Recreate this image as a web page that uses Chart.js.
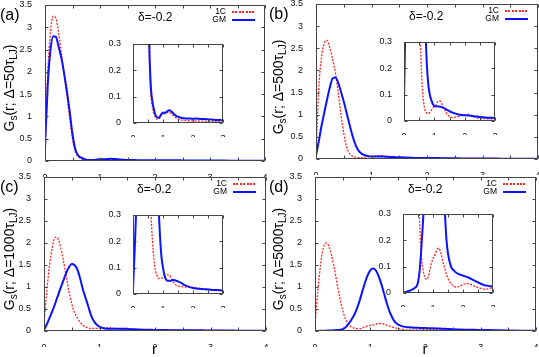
<!DOCTYPE html>
<html>
<head>
<meta charset="utf-8">
<script src="https://cdn.jsdelivr.net/npm/chart.js@4.4.1/dist/chart.umd.min.js"></script>
<style>
  body { margin: 0; width: 539px; height: 357px; overflow: hidden; background: #fff; position: relative;
         font-family: "Liberation Sans", Arial, sans-serif; color: #000; }
  canvas { position: absolute; }
  .txt { position: absolute; white-space: nowrap; line-height: 1; }
  .ylab { position: absolute; white-space: nowrap; font-size: 14px; line-height: 1;
          transform: translate(-50%, -50%) rotate(-90deg); }
  .ylab sub { font-size: 10px; vertical-align: -3px; }
  .key { position: absolute; height: 2px; }
</style>
</head>
<body>
<script>
// ====== DATA ======
const rValues = [0, 0.05, 0.1, 0.15, 0.2, 0.25, 0.3, 0.35, 0.4, 0.45, 0.5, 0.55, 0.6, 0.65, 0.7, 0.75,
  0.8, 0.85, 0.9, 0.95, 1, 1.05, 1.1, 1.15, 1.2, 1.25, 1.3, 1.35, 1.4, 1.45, 1.5,
  1.6, 1.7, 1.8, 1.9, 2, 2.1, 2.2, 2.3, 2.4, 2.5, 2.6, 2.7, 2.8, 2.9, 3,
  3.25, 3.5, 3.75, 4];

// (a) delta = 50 tau_LJ
const a1C = [0.25, 2.0, 2.9, 3.25, 3.2, 2.85, 2.4, 1.9, 1.45, 0.95, 0.5, 0.22, 0.1, 0.06, 0.035, 0.02,
  0.015, 0.015, 0.02, 0.03, 0.035, 0.035, 0.037, 0.04, 0.04, 0.038, 0.033, 0.028, 0.023, 0.018, 0.015,
  0.012, 0.01, 0.009, 0.008, 0.008, 0.008, 0.007, 0.007, 0.007, 0.006, 0.006, 0.006, 0.005, 0.005, 0.005,
  0.004, 0.004, 0.003, 0.003];
const aGM = [0.3, 1.7, 2.5, 2.8, 2.78, 2.55, 2.3, 1.95, 1.55, 1.1, 0.6, 0.27, 0.13, 0.08, 0.05, 0.03,
  0.022, 0.02, 0.025, 0.035, 0.04, 0.038, 0.04, 0.045, 0.048, 0.047, 0.042, 0.036, 0.03, 0.026, 0.024,
  0.02, 0.018, 0.017, 0.017, 0.016, 0.017, 0.016, 0.015, 0.015, 0.014, 0.013, 0.012, 0.011, 0.012, 0.01,
  0.009, 0.007, 0.006, 0.005];

// (b) delta = 500 tau_LJ
const b1C = [0.1, 1.6, 2.3, 2.62, 2.68, 2.5, 2.25, 1.95, 1.5, 1.0, 0.58, 0.28, 0.13, 0.07, 0.04, 0.03,
  0.028, 0.032, 0.04, 0.05, 0.055, 0.06, 0.07, 0.077, 0.075, 0.065, 0.05, 0.04, 0.03, 0.022, 0.017,
  0.013, 0.015, 0.017, 0.02, 0.023, 0.026, 0.022, 0.017, 0.012, 0.01, 0.009, 0.009, 0.008, 0.008, 0.008,
  0.006, 0.005, 0.004, 0.003];
const bGM = [0.08, 0.4, 0.75, 1.05, 1.35, 1.62, 1.82, 1.84, 1.72, 1.52, 1.3, 1.05, 0.8, 0.56, 0.36, 0.22,
  0.14, 0.1, 0.08, 0.065, 0.057, 0.055, 0.056, 0.055, 0.054, 0.052, 0.05, 0.047, 0.043, 0.04, 0.037,
  0.032, 0.028, 0.025, 0.023, 0.022, 0.021, 0.02, 0.018, 0.017, 0.015, 0.014, 0.013, 0.012, 0.012, 0.011,
  0.009, 0.007, 0.006, 0.005];

// (c) delta = 1000 tau_LJ
const c1C = [0.2, 0.9, 1.5, 1.9, 2.13, 2.1, 1.9, 1.6, 1.25, 0.9, 0.62, 0.42, 0.3, 0.2, 0.13, 0.09,
  0.07, 0.06, 0.058, 0.06, 0.062, 0.065, 0.07, 0.073, 0.073, 0.065, 0.055, 0.045, 0.038, 0.032, 0.03,
  0.028, 0.027, 0.026, 0.026, 0.025, 0.023, 0.021, 0.02, 0.019, 0.018, 0.017, 0.016, 0.015, 0.015, 0.014,
  0.011, 0.009, 0.007, 0.005];
const cGM = [0.02, 0.15, 0.3, 0.45, 0.62, 0.8, 0.98, 1.15, 1.32, 1.45, 1.52, 1.5, 1.4, 1.2, 0.95, 0.75,
  0.55, 0.35, 0.22, 0.14, 0.1, 0.07, 0.055, 0.05, 0.05, 0.05, 0.052, 0.053, 0.052, 0.05, 0.048,
  0.042, 0.035, 0.03, 0.026, 0.023, 0.021, 0.02, 0.019, 0.018, 0.017, 0.016, 0.015, 0.015, 0.014, 0.013,
  0.01, 0.008, 0.006, 0.005];

// (d) delta = 5000 tau_LJ
const d1C = [0.15, 0.9, 1.5, 1.88, 2.0, 1.93, 1.72, 1.42, 1.08, 0.75, 0.48, 0.28, 0.16, 0.1, 0.07, 0.055,
  0.052, 0.065, 0.09, 0.115, 0.13, 0.14, 0.155, 0.168, 0.17, 0.155, 0.135, 0.11, 0.09, 0.07, 0.055,
  0.035, 0.025, 0.022, 0.026, 0.032, 0.036, 0.035, 0.03, 0.025, 0.021, 0.018, 0.015, 0.015, 0.018, 0.02,
  0.012, 0.008, 0.005, 0.003];
const dGM = [0, 0.002, 0.004, 0.006, 0.008, 0.01, 0.013, 0.016, 0.02, 0.025, 0.04, 0.08, 0.15, 0.24, 0.34, 0.48,
  0.66, 0.87, 1.08, 1.26, 1.38, 1.42, 1.38, 1.25, 1.07, 0.85, 0.63, 0.44, 0.3, 0.2, 0.15,
  0.1, 0.085, 0.075, 0.07, 0.066, 0.062, 0.058, 0.052, 0.046, 0.04, 0.035, 0.03, 0.028, 0.026, 0.024,
  0.018, 0.012, 0.008, 0.005];

const mainXTicks = [0, 1, 2, 3, 4];
const insetXTicks = [0, 1, 2, 3];
const panelLabels = ["(a)", "(b)", "(c)", "(d)"];
const deltaLabels = ["50", "500", "1000", "5000"];
const deltaText = "δ=-0.2";
// ==================

const RED = "#ff2424";
const BLUE = "#0c12ff";
const TICK_FONT = { family: "'Liberation Sans', Arial, sans-serif", size: 9 };
const fmt = v => String(+v.toFixed(2));

// frame + gnuplot-style inward ticks on all four sides
const framePlugin = {
  id: "frame",
  afterDatasetsDraw(chart, args, opts) {
    const { ctx, chartArea: a, scales: { x, y } } = chart;
    const L = Math.round(a.left) + 0.5, R = Math.round(a.right) - 0.5;
    const T = Math.round(a.top) + 0.5, B = Math.round(a.bottom) - 0.5;
    ctx.save();
    ctx.strokeStyle = "#444";
    ctx.lineWidth = 1;
    ctx.beginPath();
    for (let v = x.min; v <= x.max + 1e-9; v += opts.xStep) {
      const px = Math.round(x.getPixelForValue(v)) + 0.5;
      ctx.moveTo(px, B); ctx.lineTo(px, B - opts.len);
      ctx.moveTo(px, T); ctx.lineTo(px, T + opts.len);
    }
    for (let v = y.min; v <= y.max + 1e-9; v += opts.yStep) {
      const py = Math.round(y.getPixelForValue(v)) + 0.5;
      ctx.moveTo(L, py); ctx.lineTo(L + opts.len, py);
      ctx.moveTo(R, py); ctx.lineTo(R - opts.len, py);
    }
    ctx.stroke();
    ctx.strokeRect(L, T, R - L, B - T);
    ctx.restore();
  }
};

function points(ys) {
  return rValues.map((r, i) => ({ x: r, y: ys[i] }));
}

function makeChart(box, red, blue, o) {
  const cv = document.createElement("canvas");
  const W = box.w + o.yw + 6, H = box.h + 6 + o.xh;
  cv.width = W; cv.height = H;
  cv.style.left = (box.x - o.yw) + "px";
  cv.style.top = (box.y - 6) + "px";
  cv.style.width = W + "px"; cv.style.height = H + "px";
  document.body.appendChild(cv);

  new Chart(cv, {
    type: "line",
    data: {
      datasets: [
        { label: "1C", data: points(red), borderColor: RED, borderWidth: 1.3, borderDash: [2, 1.4],
          pointRadius: 0, cubicInterpolationMode: "monotone", order: 1, clip: 0 },
        { label: "GM", data: points(blue), borderColor: BLUE, borderWidth: 2,
          pointRadius: 0, cubicInterpolationMode: "monotone", order: 0, clip: 0 }
      ]
    },
    options: {
      responsive: false,
      animation: false,
      devicePixelRatio: 1,
      layout: { padding: { top: 6, right: 6, left: 0, bottom: 0 } },
      plugins: {
        legend: { display: false },
        tooltip: { enabled: false },
        frame: { xStep: 0.5, yStep: o.yStep, len: 3 }
      },
      scales: {
        x: {
          type: "linear", min: 0, max: o.xMax,
          afterBuildTicks: s => { s.ticks = o.xTicks.map(v => ({ value: v })); },
          ticks: { font: TICK_FONT, color: "#111", padding: o.xPad, maxRotation: 0, callback: fmt },
          grid: { display: false }, border: { display: false },
          afterFit: s => { s.height = o.xh; s.paddingLeft = 0; s.paddingRight = 0; }
        },
        y: {
          type: "linear", min: 0, max: o.yMax,
          ticks: { stepSize: o.yStep, font: TICK_FONT, color: "#111", padding: o.yPad, callback: fmt },
          grid: { display: false }, border: { display: false },
          afterFit: s => { s.width = o.yw; s.paddingTop = 0; s.paddingBottom = 0; }
        }
      }
    },
    plugins: [framePlugin]
  });
}

function addText(html, css, cls) {
  const d = document.createElement("div");
  d.className = cls || "txt";
  d.innerHTML = html;
  Object.assign(d.style, css);
  document.body.appendChild(d);
  return d;
}

const mainBoxes = [
  { x: 45, y: 5, w: 220, h: 156 },
  { x: 316, y: 4, w: 222, h: 155 },
  { x: 44, y: 177, w: 222, h: 154 },
  { x: 315, y: 177, w: 221, h: 154 }
];
const insetBoxes = [
  { x: 133, y: 44, w: 90, h: 79 },
  { x: 404, y: 42, w: 91, h: 79 },
  { x: 133, y: 215, w: 90, h: 79 },
  { x: 403, y: 214, w: 90, h: 79 }
];
const series = [[a1C, aGM], [b1C, bGM], [c1C, cGM], [d1C, dGM]];

const mainOpts = { xMax: 4, yMax: 3.5, yStep: 0.5, xTicks: mainXTicks, yw: 46, xh: 16, xPad: 3, yPad: 5 };
const insetOpts = { xMax: 3, yMax: 0.3, yStep: 0.1, xTicks: insetXTicks, yw: 28, xh: 14, xPad: 2, yPad: 4 };

series.forEach(([red, blue], i) => makeChart(mainBoxes[i], red, blue, mainOpts));
series.forEach(([red, blue], i) => makeChart(insetBoxes[i], red, blue, insetOpts));

// labels, keys
mainBoxes.forEach((b, i) => {
  const colLeft = i % 2 ? 269 : 0;
  addText(panelLabels[i], { left: colLeft + "px", top: (b.y + 2) + "px", fontSize: "16px" });
  addText(deltaText, { left: (b.x + 93) + "px", top: (b.y + 6) + "px", fontSize: "12px" });
  addText("G<sub>s</sub>(r; Δ=" + deltaLabels[i] + "τ<sub>LJ</sub>)",
    { left: (colLeft + 10) + "px", top: (b.y + b.h / 2 + 5) + "px" }, "ylab");

  const right = b.x + b.w;
  addText("1C", { left: (right - 70) + "px", width: "31px", textAlign: "right", top: (b.y + 2) + "px", fontSize: "8.5px" });
  addText("GM", { left: (right - 70) + "px", width: "31px", textAlign: "right", top: (b.y + 10) + "px", fontSize: "8.5px" });
  addText("", { left: (right - 33) + "px", top: (b.y + 6) + "px", width: "23px", height: "1.5px",
    background: "repeating-linear-gradient(90deg," + RED + " 0 2px, transparent 2px 3.4px)" }, "key");
  addText("", { left: (right - 33) + "px", top: (b.y + 14) + "px", width: "23px", height: "2px", background: BLUE }, "key");

  if (i >= 2) addText("r", { left: (b.x + b.w / 2 - 3) + "px", top: "341px", fontSize: "15px" });
});
</script>
</body>
</html>
